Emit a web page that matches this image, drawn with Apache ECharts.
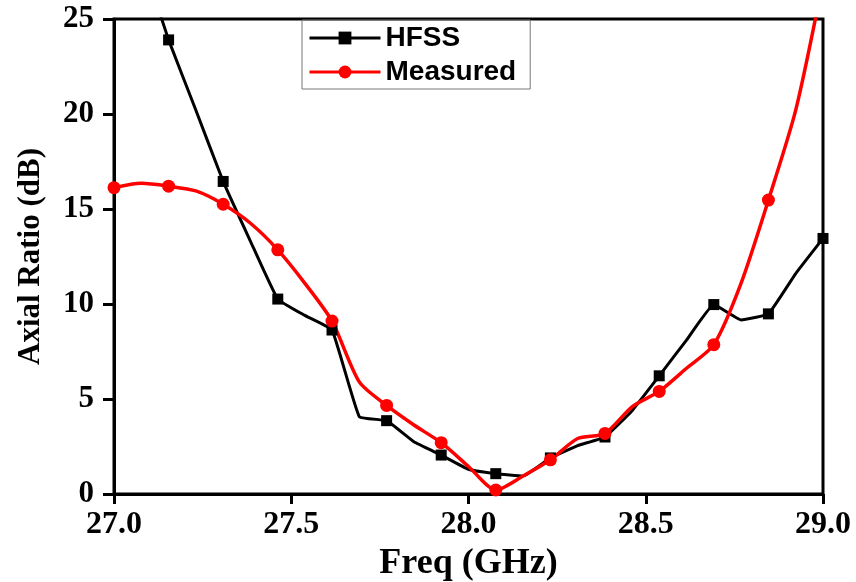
<!DOCTYPE html>
<html>
<head>
<meta charset="utf-8">
<script src="https://cdn.jsdelivr.net/npm/echarts@6/dist/echarts.min.js"></script>
<style>
html,body{margin:0;padding:0;background:#fff;}
#chart{width:856px;height:582px;}
</style>
</head>
<body>
<div id="chart"></div>
<script>
// Frequency samples (GHz); markers are drawn on every second sample
const freq = [27.000, 27.077, 27.154, 27.231, 27.308, 27.385, 27.462, 27.538, 27.615, 27.692,
              27.769, 27.846, 27.923, 28.000, 28.077, 28.154, 28.231, 28.308, 28.385, 28.462,
              28.538, 28.615, 28.692, 28.769, 28.846, 28.923, 29.000];
const hfss = [33.0, 28.3, 23.9, 20.2, 16.45, 13.3, 10.26, 9.4, 8.63, 4.07,
              3.86, 2.75, 2.05, 1.3, 1.07, 0.95, 1.9, 2.55, 3.0, 4.4,
              6.22, 8.1, 9.97, 9.16, 9.48, 11.6, 13.45];
const measured = [16.12, 16.35, 16.2, 15.95, 15.25, 14.25, 12.85, 11.1, 9.1, 5.9,
                  4.66, 3.63, 2.7, 1.45, 0.21, 0.95, 1.8, 2.92, 3.19, 4.6,
                  5.4, 6.62, 7.86, 11.1, 15.47, 20.2, 27.0];
const seriesNames = ['HFSS', 'Measured'];
const xTicks = [27.0, 27.5, 28.0, 28.5, 29.0];
const yTicks = [0, 5, 10, 15, 20, 25];

function buildData(vals, sym) {
  return freq.map((f, i) => ({ value: [f, vals[i]], symbol: i % 2 === 0 ? sym : 'none' }));
}

const chart = echarts.init(document.getElementById('chart'));
const serif = 'Liberation Serif';
chart.setOption({
  animation: false,
  backgroundColor: '#fff',
  grid: { left: 114, right: 33, top: 19, bottom: 88, containLabel: false, outerBoundsMode: 'none',
    show: true, borderColor: '#000', borderWidth: 3, backgroundColor: 'transparent' },
  legend: {
    data: seriesNames,
    orient: 'vertical',
    left: 302, top: 20,
    padding: [4, 14, 3, 6],
    itemGap: 6,
    itemWidth: 71, itemHeight: 16,
    borderColor: '#777', borderWidth: 1,
    selectedMode: false,
    lineStyle: { width: 3 },
    textStyle: { fontFamily: 'Liberation Sans', fontWeight: 'bold', fontSize: 28, color: '#000' }
  },
  xAxis: {
    type: 'value', min: xTicks[0], max: xTicks[xTicks.length - 1], interval: 0.5,
    name: 'Freq (GHz)', nameLocation: 'middle', nameGap: 51,
    nameTextStyle: { fontFamily: serif, fontWeight: 'bold', fontSize: 36, color: '#000' },
    axisLine: { lineStyle: { color: '#000', width: 3 } },
    axisTick: { show: true, length: 10, inside: false, lineStyle: { color: '#000', width: 3 } },
    axisLabel: { margin: 15, fontFamily: serif, fontWeight: 'bold', fontSize: 32, color: '#000',
      showMinLabel: true, showMaxLabel: true, formatter: v => v.toFixed(1) },
    splitLine: { show: false }
  },
  yAxis: {
    type: 'value', min: yTicks[0], max: yTicks[yTicks.length - 1], interval: 5,
    name: 'Axial Ratio (dB)', nameLocation: 'middle', nameGap: 68,
    nameTextStyle: { fontFamily: serif, fontWeight: 'bold', fontSize: 31, color: '#000' },
    axisLine: { lineStyle: { color: '#000', width: 3 } },
    axisTick: { show: true, length: 11, inside: false, lineStyle: { color: '#000', width: 3 } },
    axisLabel: { margin: 20, fontFamily: serif, fontWeight: 'bold', fontSize: 31, color: '#000',
      showMinLabel: true, showMaxLabel: true },
    splitLine: { show: false }
  },
  series: [
    {
      name: seriesNames[0], type: 'line', data: buildData(hfss, 'rect'),
      symbol: 'rect', symbolSize: 11, showSymbol: true, showAllSymbol: true,
      smooth: 0.1, clip: true,
      lineStyle: { color: '#000', width: 3 },
      itemStyle: { color: '#000' }
    },
    {
      name: seriesNames[1], type: 'line', data: buildData(measured, 'circle'),
      symbol: 'circle', symbolSize: 13, showSymbol: true, showAllSymbol: true,
      smooth: 0.25, clip: true,
      lineStyle: { color: '#f00', width: 3.5 },
      itemStyle: { color: '#f00' }
    }
  ]
});
</script>
</body>
</html>
